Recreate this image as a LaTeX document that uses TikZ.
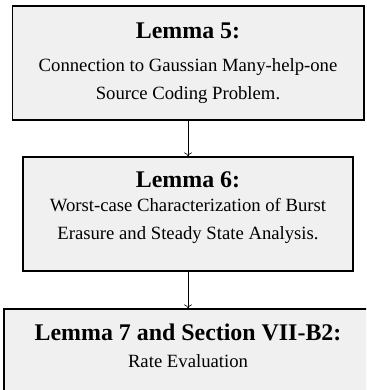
\documentclass[tikz,border=0pt]{standalone}
\usepackage{fontspec}
\setmainfont{Liberation Serif}
\usetikzlibrary{arrows.meta}
\definecolor{boxfill}{RGB}{240,240,240}
\tikzset{
  lembox/.style={draw=black, line width=1.1pt, fill=boxfill, inner sep=0pt},
  ttl/.style={anchor=base, inner sep=0pt, font=\fontsize{23.9}{26}\selectfont\bfseries},
  bdy/.style={anchor=base, inner sep=0pt, font=\fontsize{18.7}{21}\selectfont},
  conn/.style={line width=0.6pt, -{To[length=4pt,width=8pt]}}
}
\begin{document}
\begin{tikzpicture}[x=1pt,y=1pt]
\useasboundingbox (0,0) rectangle (366,390);
\clip (0,0) rectangle (366,390);
\node[lembox, minimum width=351.5pt, minimum height=114pt] (b1) at (188.25,327) {};
\node[lembox, minimum width=330pt, minimum height=114pt] (b2) at (188,176) {};
\node[lembox, minimum width=368pt, minimum height=114pt] (b3) at (188,24) {};
\node[ttl] (t1) at (188,351) {Lemma 5:};
\node[bdy] (s1a) at (188,318) {Connection to Gaussian Many-help-one};
\node[bdy] (s1b) at (188,290) {Source Coding Problem.};
\node[ttl] (t2) at (188,202) {Lemma 6:};
\node[bdy] (s2a) at (188,178) {Worst-case Characterization of Burst};
\node[bdy] (s2b) at (188,150) {Erasure and Steady State Analysis.};
\node[ttl] (t3) at (188,49) {Lemma 7 and Section VII-B2:};
\node[bdy] (s3a) at (188,22) {Rate Evaluation};
\draw[conn] (b1.south -| 188,0) -- (b2.north -| 188,0);
\draw[conn] (b2.south -| 188,0) -- (b3.north -| 188,0);
\end{tikzpicture}
\end{document}
